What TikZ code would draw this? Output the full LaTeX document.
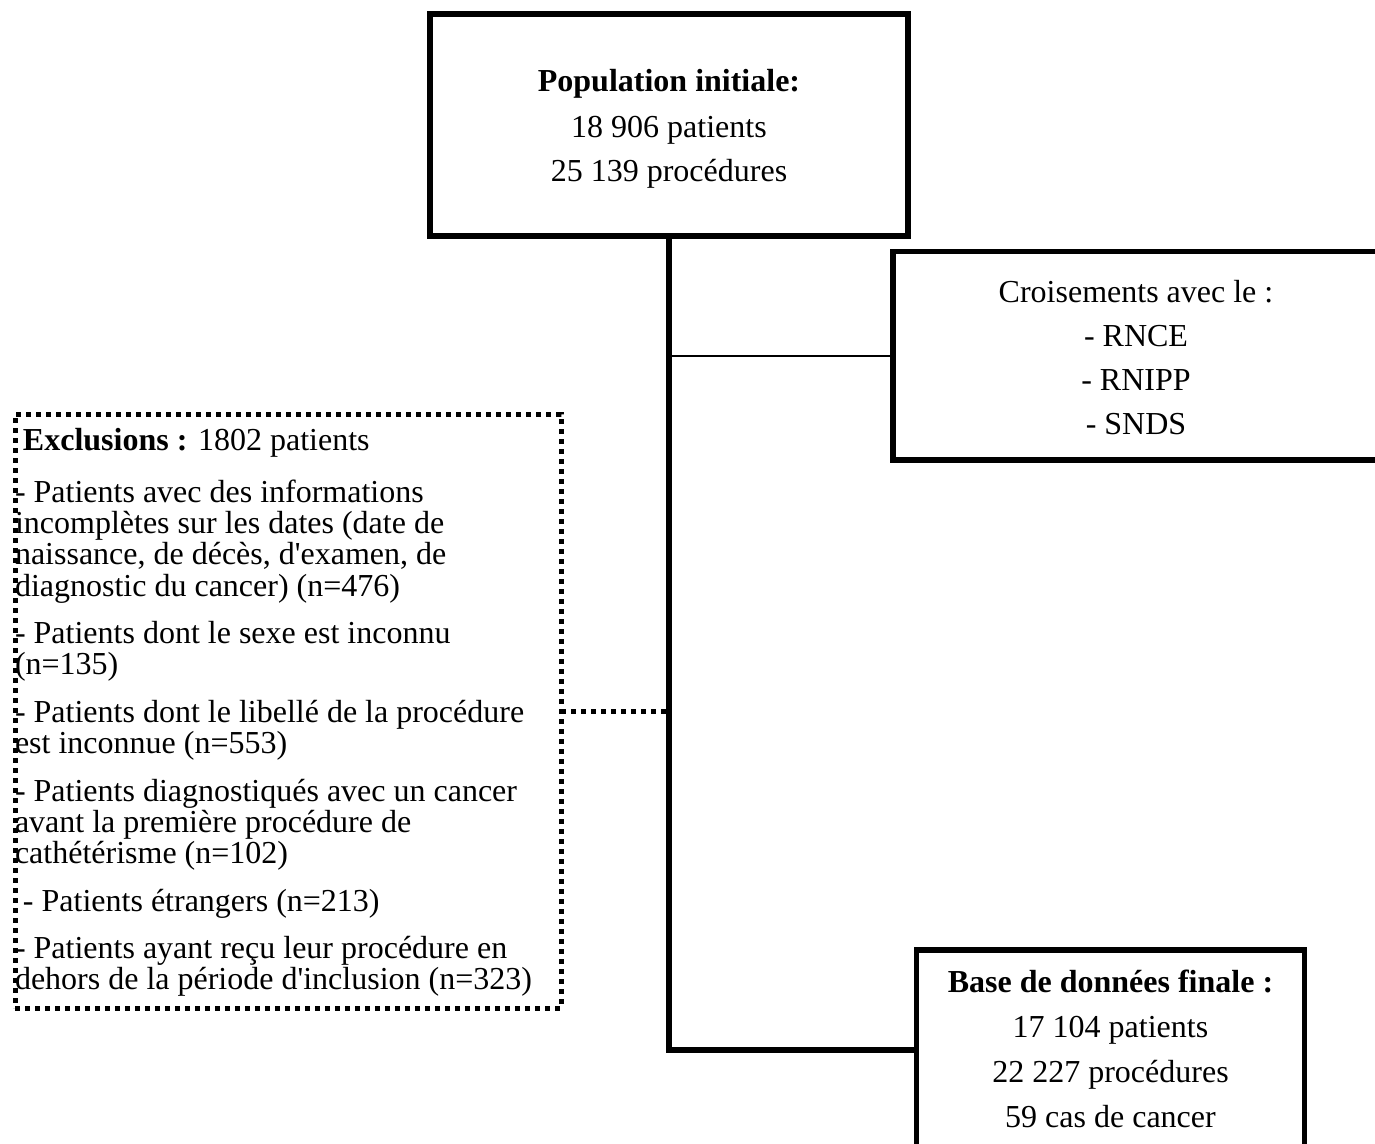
\documentclass[tikz,border=0pt]{standalone}
\usepackage{fontspec}
\setmainfont{Liberation Serif}[Ligatures=TeXOff]
\begin{document}
\begin{tikzpicture}[x=1pt,y=-1pt,
  solidbox/.style={draw,line width=5.5pt,inner sep=0pt,outer sep=0pt},
  dotbox/.style={draw,line width=5pt,dash pattern=on 5pt off 5pt,inner sep=0pt,outer sep=0pt},
  txt/.style={inner sep=0pt,outer sep=0pt,anchor=base,font=\fontsize{32}{38}\selectfont},
  ltxt/.style={txt,anchor=base west},
  mainline/.style={line width=6pt},
  thinline/.style={line width=2pt},
  dotline/.style={line width=5pt,dash pattern=on 5pt off 5pt}]
\useasboundingbox (0,0) rectangle (1375,1143);
% boxes
\node[solidbox,minimum width=478pt,minimum height=222pt] (top) at (669,125) {};
\node[solidbox,minimum width=487pt,minimum height=208.5pt] (cross) at (1136.5,355.75) {};
\node[dotbox,minimum width=546pt,minimum height=594pt] (excl) at (288,711) {};
\node[solidbox,minimum width=388pt,minimum height=260pt] (final) at (1110.5,1080) {};
% connectors
\coordinate (elbow) at (669,1050);
\draw[dotline] (excl.east) -- (excl.east -| top.south);
\draw[thinline] (top.south |- cross.west) -- (cross.west);
\draw[mainline] (top.south) -- (elbow) -- (elbow -| final.west);
% top box text
\node[txt] (t1) at (669,91) {\textbf{Population initiale:}};
\node[txt] (t2) at (669,137) {18 906 patients};
\node[txt] (t3) at (669,181) {25 139 procédures};
% right box text
\node[txt] (c1) at (1136,302) {Croisements avec le :};
\node[txt] (c2) at (1136,346) {- RNCE};
\node[txt] (c3) at (1136,390) {- RNIPP};
\node[txt] (c4) at (1136,434) {- SNDS};
% final box text
\node[txt] (f1) at (1110.5,992) {\textbf{Base de données finale :}};
\node[txt] (f2) at (1110.5,1037) {17 104 patients};
\node[txt] (f3) at (1110.5,1082) {22 227 procédures};
\node[txt] (f4) at (1110.5,1127) {59 cas de cancer};
% exclusions text
\node[ltxt] (e1) at (15,450) {\hspace*{8pt}\textbf{Exclusions :} 1802 patients};
\node[ltxt] (e2) at (15,502) {- Patients avec des informations};
\node[ltxt] (e3) at (15,533) {incomplètes sur les dates (date de};
\node[ltxt] (e4) at (15,564.5) {naissance, de décès, d'examen, de};
\node[ltxt] (e5) at (15,596) {diagnostic du cancer) (n=476)};
\node[ltxt] (e6) at (15,643) {- Patients dont le sexe est inconnu};
\node[ltxt] (e7) at (15,674.5) {(n=135)};
\node[ltxt] (e8) at (15,722) {- Patients dont le libellé de la procédure};
\node[ltxt] (e9) at (15,753) {est inconnue (n=553)};
\node[ltxt] (e10) at (15,801) {- Patients diagnostiqués avec un cancer};
\node[ltxt] (e11) at (15,832) {avant la première procédure de};
\node[ltxt] (e12) at (15,863) {cathétérisme (n=102)};
\node[ltxt] (e13) at (15,911) {\hspace*{8pt}- Patients étrangers (n=213)};
\node[ltxt] (e14) at (15,958) {- Patients ayant reçu leur procédure en};
\node[ltxt] (e15) at (15,989.5) {dehors de la période d'inclusion (n=323)};
\end{tikzpicture}
\end{document}
